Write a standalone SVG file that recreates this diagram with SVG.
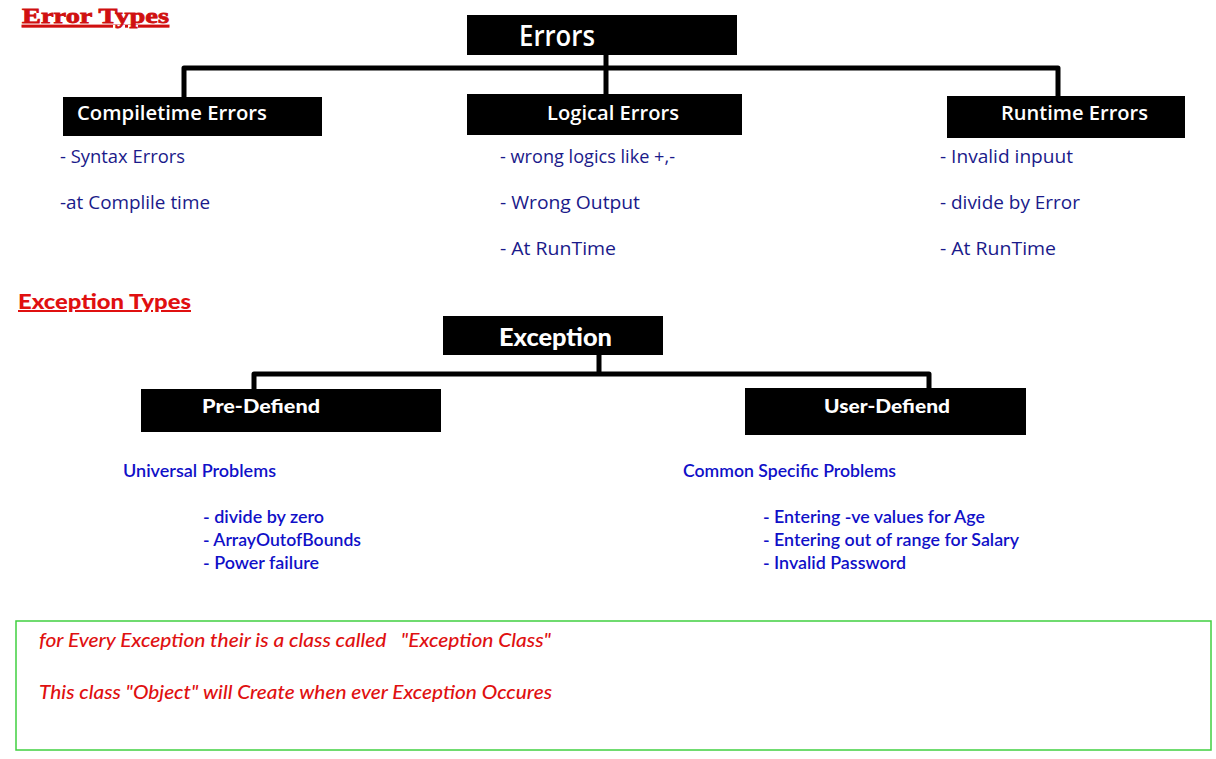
<svg xmlns="http://www.w3.org/2000/svg" width="1216" height="759" viewBox="0 0 1216 759">
<style>
.box{fill:#000}
.wt{fill:#fff;font-family:"Open Sans","DejaVu Sans",sans-serif;font-weight:600}
.bt{fill:#1a1a8a;font-family:"Open Sans","DejaVu Sans",sans-serif;font-size:18px;font-weight:500}
.ct{fill:#1010c8;font-family:Lato,"Liberation Sans",sans-serif;font-size:17px;font-weight:600}
.ft{fill:#e01010;font-family:Lato,"Liberation Sans",sans-serif;font-size:19px;font-style:italic;font-weight:500}
.con{stroke:#000;stroke-width:5;fill:none;stroke-linejoin:round}
</style>
<rect width="1216" height="759" fill="#fff"/>
<text x="22" y="23" font-family="Liberation Serif,serif" font-weight="bold" font-size="22" fill="#d01010" stroke="#d01010" stroke-width="0.8" text-decoration="underline" textLength="147" lengthAdjust="spacingAndGlyphs">Error Types</text>
<text x="18" y="309" font-family="Lato,Liberation Sans,sans-serif" font-weight="900" font-size="20" fill="#e01010" text-decoration="underline" textLength="173" lengthAdjust="spacingAndGlyphs">Exception Types</text>
<g id="connectors">
<path class="con" d="M606 55 V94"/>
<path class="con" d="M184 97 V68 H1058 V96"/>
<path class="con" d="M599 355 V374"/>
<path class="con" d="M254 389 V374 H929 V388"/>
</g>
<g id="errors"><rect class="box" x="467" y="15" width="270" height="40"/><text class="wt" x="519" y="46" font-size="28" textLength="76" lengthAdjust="spacingAndGlyphs">Errors</text></g>
<g id="compiletime"><rect class="box" x="63" y="97" width="259" height="39"/><text class="wt" x="77" y="120" font-size="20" textLength="190" lengthAdjust="spacingAndGlyphs">Compiletime Errors</text>
<text class="bt" x="60" y="163" textLength="125" lengthAdjust="spacingAndGlyphs">- Syntax Errors</text>
<text class="bt" x="60" y="209" textLength="150" lengthAdjust="spacingAndGlyphs">-at Complile time</text></g>
<g id="logical"><rect class="box" x="467" y="94" width="275" height="41"/><text class="wt" x="547" y="120" font-size="20" textLength="132" lengthAdjust="spacingAndGlyphs">Logical Errors</text>
<text class="bt" x="500" y="163" textLength="175" lengthAdjust="spacingAndGlyphs">- wrong logics like +,-</text>
<text class="bt" x="500" y="209" textLength="140" lengthAdjust="spacingAndGlyphs">- Wrong Output</text>
<text class="bt" x="500" y="255" textLength="116" lengthAdjust="spacingAndGlyphs">- At RunTime</text></g>
<g id="runtime"><rect class="box" x="947" y="96" width="238" height="42"/><text class="wt" x="1001" y="120" font-size="20" textLength="147" lengthAdjust="spacingAndGlyphs">Runtime Errors</text>
<text class="bt" x="940" y="163" textLength="133" lengthAdjust="spacingAndGlyphs">- Invalid inpuut</text>
<text class="bt" x="940" y="209" textLength="140" lengthAdjust="spacingAndGlyphs">- divide by Error</text>
<text class="bt" x="940" y="255" textLength="116" lengthAdjust="spacingAndGlyphs">- At RunTime</text></g>
<g id="exception"><rect class="box" x="443" y="316" width="220" height="39"/><text x="499" y="346" fill="#fff" font-family="Lato,Liberation Sans,sans-serif" font-weight="900" font-size="24" textLength="113" lengthAdjust="spacingAndGlyphs">Exception</text></g>
<g id="predefined"><rect class="box" x="141" y="389" width="300" height="43"/><text x="202" y="413" fill="#fff" font-family="Lato,Liberation Sans,sans-serif" font-weight="900" font-size="19" textLength="118" lengthAdjust="spacingAndGlyphs">Pre-Defiend</text>
<text class="ct" x="123" y="477" textLength="153" lengthAdjust="spacingAndGlyphs">Universal Problems</text>
<text class="ct" x="203" y="523" textLength="121" lengthAdjust="spacingAndGlyphs">- divide by zero</text>
<text class="ct" x="203" y="546" textLength="158" lengthAdjust="spacingAndGlyphs">- ArrayOutofBounds</text>
<text class="ct" x="203" y="569" textLength="116" lengthAdjust="spacingAndGlyphs">- Power failure</text></g>
<g id="userdefined"><rect class="box" x="745" y="388" width="281" height="47"/><text x="824" y="413" fill="#fff" font-family="Lato,Liberation Sans,sans-serif" font-weight="900" font-size="19" textLength="126" lengthAdjust="spacingAndGlyphs">User-Defiend</text>
<text class="ct" x="683" y="477" textLength="213" lengthAdjust="spacingAndGlyphs">Common Specific Problems</text>
<text class="ct" x="763" y="523" textLength="222" lengthAdjust="spacingAndGlyphs">- Entering -ve values for Age</text>
<text class="ct" x="763" y="546" textLength="256" lengthAdjust="spacingAndGlyphs">- Entering out of range for Salary</text>
<text class="ct" x="763" y="569" textLength="143" lengthAdjust="spacingAndGlyphs">- Invalid Password</text></g>
<g id="note"><rect x="16" y="621" width="1195" height="129" fill="none" stroke="#40d040" stroke-width="1.5"/>
<text class="ft" x="39" y="647" textLength="512" lengthAdjust="spacingAndGlyphs" xml:space="preserve">for Every Exception their is a class called   "Exception Class"</text>
<text class="ft" x="39" y="699" textLength="513" lengthAdjust="spacingAndGlyphs">This class "Object" will Create when ever Exception Occures</text></g>
</svg>
